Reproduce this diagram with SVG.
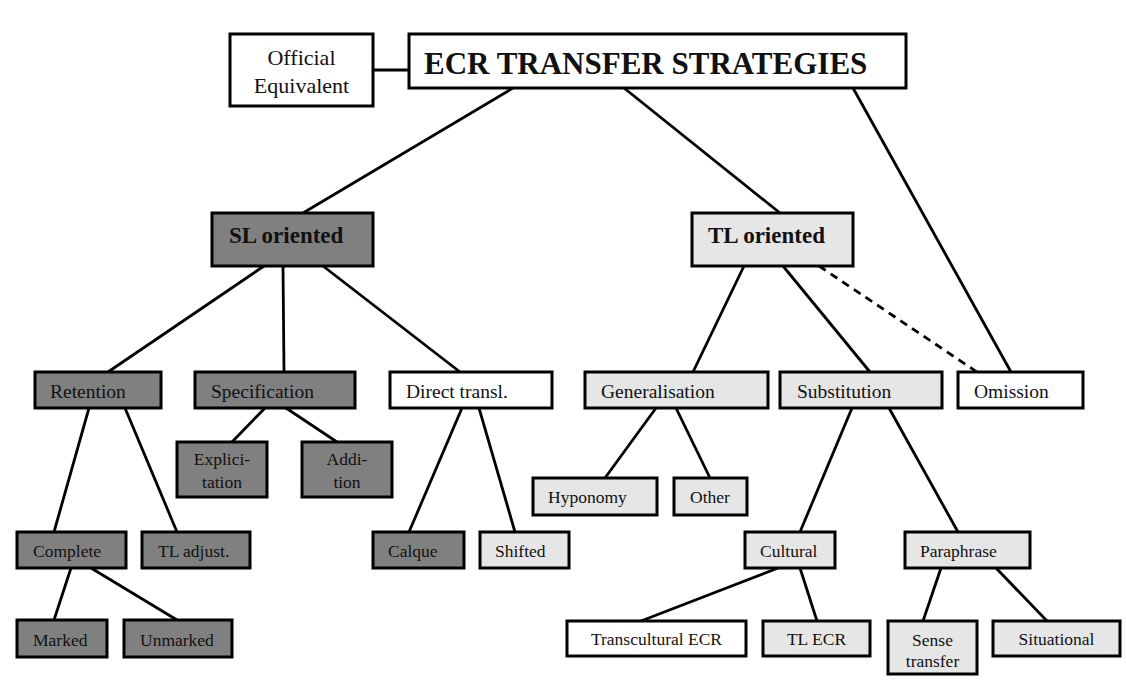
<svg xmlns="http://www.w3.org/2000/svg" width="1126" height="698" viewBox="0 0 1126 698">
<style>
.n rect{stroke:#000;stroke-width:3}
.d{fill:#808080}.l{fill:#e6e6e6}.w{fill:#fff}
text{font-family:"Liberation Serif","Times New Roman",serif;fill:#111}
.a{font-size:19.5px}.b{font-size:17.5px}.c{font-size:17.5px;text-anchor:middle}
.h{font-weight:bold}
#edges line{stroke:#000;stroke-width:2.8}
#edges .dash{stroke-dasharray:8 6}
</style>
<rect x="0" y="0" width="1126" height="698" fill="#fff"/>
<g id="edges">
<line x1="373" y1="70" x2="409" y2="70"/>
<line x1="513" y1="88" x2="303" y2="213"/>
<line x1="624" y1="88" x2="780" y2="213"/>
<line x1="853" y1="88" x2="1011" y2="372"/>
<line x1="264" y1="266" x2="108" y2="372"/>
<line x1="283" y1="266" x2="284" y2="372"/>
<line x1="323" y1="266" x2="460" y2="372"/>
<line x1="744" y1="266" x2="693" y2="372"/>
<line x1="783" y1="266" x2="870" y2="372"/>
<line class="dash" x1="819" y1="266" x2="977" y2="372"/>
<line x1="89" y1="408" x2="54" y2="532"/>
<line x1="125" y1="408" x2="177" y2="532"/>
<line x1="265" y1="408" x2="232" y2="442"/>
<line x1="286" y1="408" x2="337" y2="442"/>
<line x1="462" y1="408" x2="409" y2="532"/>
<line x1="479" y1="408" x2="515" y2="532"/>
<line x1="656" y1="408" x2="605" y2="478"/>
<line x1="676" y1="408" x2="710" y2="478"/>
<line x1="852" y1="408" x2="800" y2="532"/>
<line x1="889" y1="408" x2="958" y2="532"/>
<line x1="71" y1="568" x2="54" y2="620"/>
<line x1="91" y1="568" x2="177" y2="620"/>
<line x1="778" y1="568" x2="641" y2="621"/>
<line x1="800" y1="568" x2="817" y2="621"/>
<line x1="941" y1="568" x2="923" y2="621"/>
<line x1="996" y1="568" x2="1047" y2="621"/>
</g>
<g id="official" class="n"><rect class="w" x="230" y="34" width="143" height="72"/><text x="301.5" y="65" font-size="22" text-anchor="middle">Official</text><text x="301.5" y="93" font-size="22" text-anchor="middle">Equivalent</text></g>
<g id="ecr" class="n"><rect class="w" x="409" y="34" width="497" height="54"/><text class="h" x="424" y="74" font-size="31">ECR TRANSFER STRATEGIES</text></g>
<g id="sl" class="n"><rect class="d" x="212" y="213" width="161" height="53"/><text class="h" x="229" y="243" font-size="23">SL oriented</text></g>
<g id="tl" class="n"><rect class="l" x="692" y="213" width="161" height="53"/><text class="h" x="708" y="243" font-size="23">TL oriented</text></g>
<g id="retention" class="n"><rect class="d" x="35" y="372" width="126" height="36"/><text class="a" x="50" y="398">Retention</text></g>
<g id="specification" class="n"><rect class="d" x="195" y="372" width="160" height="36"/><text class="a" x="211" y="398">Specification</text></g>
<g id="direct" class="n"><rect class="w" x="390" y="372" width="162" height="36"/><text class="a" x="406" y="398">Direct transl.</text></g>
<g id="generalisation" class="n"><rect class="l" x="585" y="372" width="183" height="36"/><text class="a" x="601" y="398">Generalisation</text></g>
<g id="substitution" class="n"><rect class="l" x="780" y="372" width="162" height="36"/><text class="a" x="797" y="398">Substitution</text></g>
<g id="omission" class="n"><rect class="w" x="958" y="372" width="125" height="36"/><text class="a" x="974" y="398">Omission</text></g>
<g id="explicitation" class="n"><rect class="d" x="177" y="442" width="90" height="55"/><text class="c" x="222" y="465">Explici-</text><text class="c" x="222" y="488">tation</text></g>
<g id="addition" class="n"><rect class="d" x="302" y="442" width="90" height="55"/><text class="c" x="347" y="465">Addi-</text><text class="c" x="347" y="488">tion</text></g>
<g id="hyponomy" class="n"><rect class="l" x="533" y="478" width="124" height="37"/><text class="b" x="548" y="503">Hyponomy</text></g>
<g id="other" class="n"><rect class="l" x="674" y="478" width="73" height="37"/><text class="b" x="690" y="503">Other</text></g>
<g id="complete" class="n"><rect class="d" x="17" y="532" width="109" height="36"/><text class="b" x="33" y="557">Complete</text></g>
<g id="tladjust" class="n"><rect class="d" x="142" y="532" width="108" height="36"/><text class="b" x="158" y="557">TL adjust.</text></g>
<g id="calque" class="n"><rect class="d" x="373" y="532" width="91" height="36"/><text class="b" x="388" y="557">Calque</text></g>
<g id="shifted" class="n"><rect class="l" x="480" y="532" width="89" height="36"/><text class="b" x="495" y="557">Shifted</text></g>
<g id="cultural" class="n"><rect class="l" x="745" y="532" width="90" height="36"/><text class="b" x="760" y="557">Cultural</text></g>
<g id="paraphrase" class="n"><rect class="l" x="905" y="532" width="125" height="36"/><text class="b" x="920" y="557">Paraphrase</text></g>
<g id="marked" class="n"><rect class="d" x="17" y="620" width="90" height="37"/><text class="b" x="33" y="646">Marked</text></g>
<g id="unmarked" class="n"><rect class="d" x="124" y="620" width="108" height="37"/><text class="b" x="140" y="646">Unmarked</text></g>
<g id="transcultural" class="n"><rect class="w" x="567" y="621" width="179" height="35"/><text class="c" x="656.5" y="645">Transcultural ECR</text></g>
<g id="tlecr" class="n"><rect class="l" x="763" y="621" width="107" height="35"/><text class="c" x="816.5" y="645">TL ECR</text></g>
<g id="sense" class="n"><rect class="l" x="888" y="621" width="89" height="53"/><text class="c" x="932.5" y="646">Sense</text><text class="c" x="932.5" y="667">transfer</text></g>
<g id="situational" class="n"><rect class="l" x="993" y="621" width="127" height="35"/><text class="c" x="1056.5" y="645">Situational</text></g>
</svg>
